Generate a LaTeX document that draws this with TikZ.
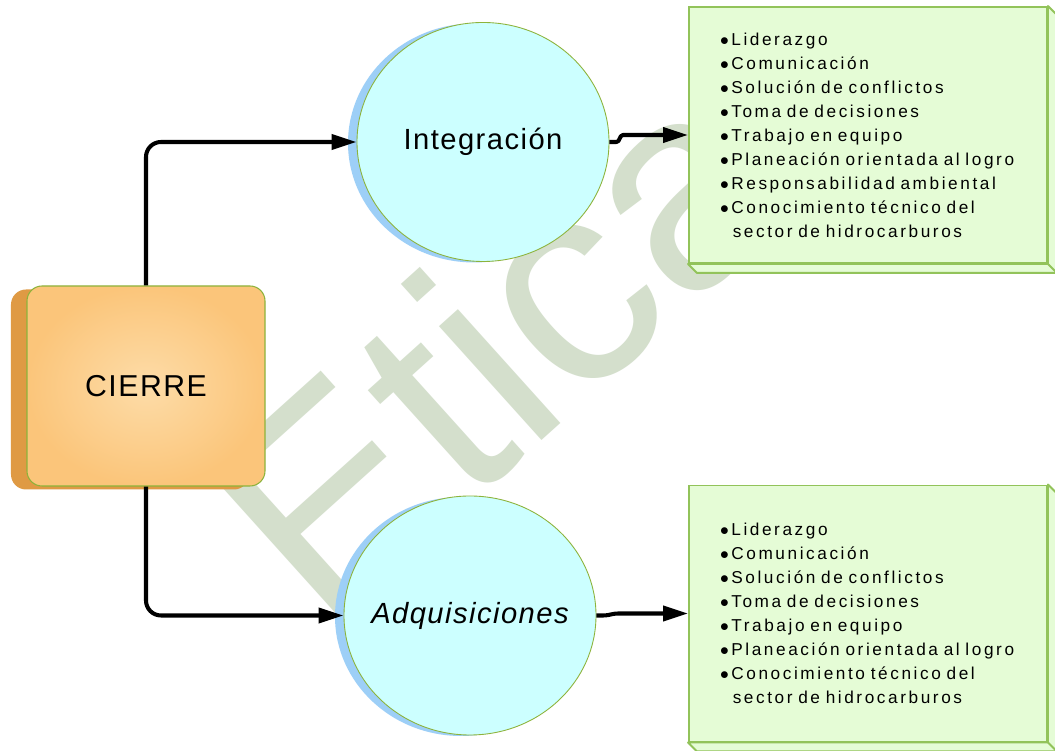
\documentclass[tikz,border=0pt]{standalone}
\usepackage{fontspec}
\setmainfont{Liberation Sans}
\newfontfamily\titlefont[LetterSpace=5]{Liberation Sans}
\newfontfamily\listfont[LetterSpace=15]{Liberation Sans}
\usetikzlibrary{arrows.meta,shapes.geometric,shadows}

\definecolor{cierreout}{HTML}{FBC57A}
\definecolor{cierrein}{HTML}{FDDCA8}
\definecolor{cierreshadow}{HTML}{DF9A44}
\definecolor{oliveline}{HTML}{8DB33B}
\definecolor{circfill}{HTML}{CCFFFF}
\definecolor{circshadow}{HTML}{9DCFF7}
\definecolor{boxfill}{HTML}{E5FCD6}
\definecolor{boxline}{HTML}{92C35A}
\definecolor{markgreen}{HTML}{D4DFCC}

\newcommand{\punto}{\makebox[0.66em][l]{$\bullet$}}
\newcommand{\sigue}{\hspace*{0.74em}}

\tikzset{
  fase/.style={rectangle, rounded corners=0.3cm, draw=oliveline, line width=0.6pt,
    inner color=cierrein, outer color=cierreout, minimum width=4.76cm, minimum height=4.0cm,
    general shadow={fill=cierreshadow, shadow xshift=-0.32cm, shadow yshift=-0.07cm},
    font=\titlefont\fontsize{17.2}{20}\selectfont},
  tema/.style={ellipse, draw=oliveline, line width=0.5pt, fill=circfill, inner sep=0pt,
    minimum width=5.04cm, minimum height=4.78cm,
    general shadow={fill=circshadow, shadow xshift=-0.18cm, shadow yshift=-0.02cm},
    font=\titlefont\fontsize{16.6}{19}\selectfont},
  lista/.style={rectangle, draw=boxline, line width=1.1pt, fill=boxfill,
    minimum width=7.16cm, minimum height=5.12cm, text width=5.92cm, inner xsep=0.62cm,
    align=left, font=\listfont\fontsize{9.8}{13.66}\selectfont},
  lado/.style={draw=boxline, line width=1.1pt, fill=boxfill, line join=round},
  enlace/.style={line width=2.3pt, line join=round, -{Triangle[length=0.5cm, width=0.3cm]}}
}

\begin{document}
\begin{tikzpicture}

\useasboundingbox[fill=white] (0,0) rectangle (21.1,15.02);

% MARCA DE AGUA %%%%%%%%%%%%%%%%%%%%%%%%%%%%%%%%%%%%%%%%%%%%%%%%%%%%%%%%%%%

\node[rotate=42, anchor=base west, text=markgreen, inner sep=0pt,
  font=\fontsize{165}{170}\selectfont] (marca) at (6.48,2.28) {Ética};

% NODOS %%%%%%%%%%%%%%%%%%%%%%%%%%%%%%%%%%%%%%%%%%%%%%%%%%%%%%%%%%%%%%%%%%

\node[fase] (cierre) at (2.92,7.30) {CIERRE};

\node[tema] (integ) at (9.66,12.18) {\makebox[0pt]{Integración}};
\node[tema] (adq) at (9.40,2.71) {\makebox[0pt]{\itshape Adquisiciones}};

\node[lista] (skillsA) at (17.36,12.32) {\punto Liderazgo\\ \punto Comunicación\\ \punto Solución de conflictos\\ \punto Toma de decisiones\\ \punto Trabajo en equipo\\ \punto Planeación orientada al logro\\ \punto Responsabilidad ambiental\\ \punto Conocimiento técnico del\\ \sigue sector de hidrocarburos};
\node[lista] (skillsB) at (17.36,2.75) {\punto Liderazgo\\ \punto Comunicación\\ \punto Solución de conflictos\\ \punto Toma de decisiones\\ \punto Trabajo en equipo\\ \punto Planeación orientada al logro\\ \punto Conocimiento técnico del\\ \sigue sector de hidrocarburos};

% caras laterales de las cajas
\draw[lado] (skillsA.north east) -- ++(0.18,-0.18) |- ([shift={(0.18,-0.18)}]skillsA.south west) -- (skillsA.south west) -- (skillsA.south east) -- cycle;
\draw[lado] (skillsA.south east) -- ++(0.18,-0.18);
\draw[lado] (skillsB.north east) -- ++(0.18,-0.18) |- ([shift={(0.18,-0.18)}]skillsB.south west) -- (skillsB.south west) -- (skillsB.south east) -- cycle;
\draw[lado] (skillsB.south east) -- ++(0.18,-0.18);

% ENLACES %%%%%%%%%%%%%%%%%%%%%%%%%%%%%%%%%%%%%%%%%%%%%%%%%%%%%%%%%%%%%%%%

\draw[enlace, rounded corners=0.3cm] (cierre.north) |- (integ.west);
\draw[enlace, rounded corners=0.3cm] (cierre.south) |- (adq.west);

\draw[enlace] (integ.east) -- ++(0.14,0) to[out=0,in=180] ([xshift=-1.3cm]skillsA.west) -- (skillsA.west);
\draw[enlace] (adq.east) -- ++(0.14,0) to[out=0,in=180] ([xshift=-1.4cm]skillsB.west) -- (skillsB.west);

\end{tikzpicture}
\end{document}
